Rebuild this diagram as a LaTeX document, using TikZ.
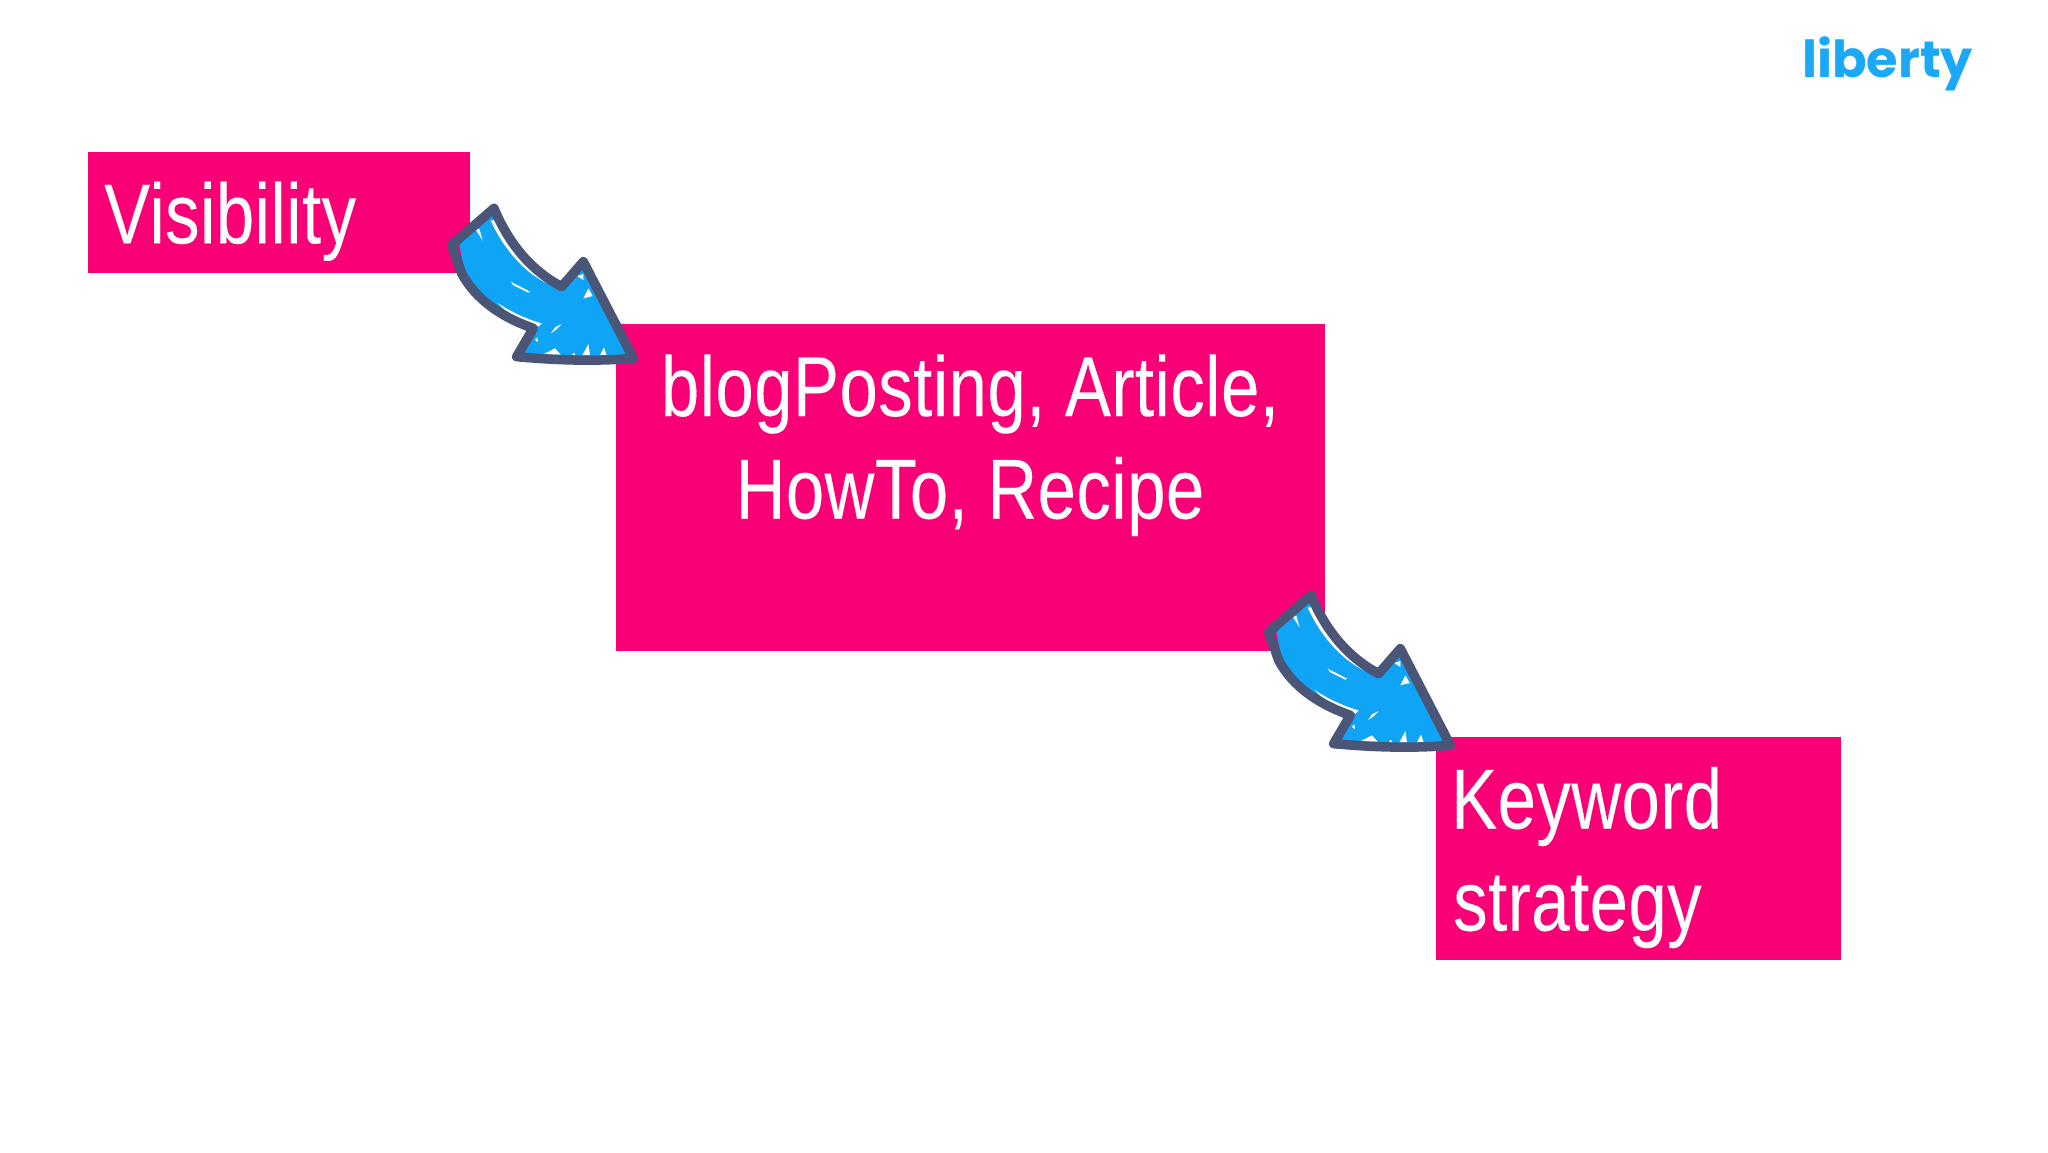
\documentclass[tikz,border=0pt]{standalone}
\usepackage{fontspec}
\setmainfont{Liberation Sans}
\newfontfamily\condfont[FakeStretch=0.81,FakeBold=0.1,LetterSpace=0.6]{Liberation Sans}
\newfontfamily\logofont{Poppins}
\definecolor{boxpink}{HTML}{FA0077}
\definecolor{arrowblue}{HTML}{0FA4F5}
\definecolor{arrowedge}{HTML}{4A5578}
\definecolor{logoblue}{HTML}{1AA8F7}
\tikzset{
  pinkbox/.style={fill=boxpink,draw=none,inner sep=0pt,anchor=north west},
  boxtext/.style={inner sep=0pt,text=white,font=\condfont\fontsize{85}{85}\selectfont},
  streak/.style={fill=white,draw=none},
  pics/sketcharrow/.style={code={
    \begin{scope}[scale=1/3]
      \path[fill=arrowblue]
        (222,85) .. controls (270,200) and (340,275) .. (425,320)
        -- (490,245) -- (640,535) -- (290,530) -- (340,445)
        .. controls (240,410) and (170,350) .. (135,280)
        -- (118,195) -- cycle;
      % white gaps left by the scribble
      \path[streak] (224,120) .. controls (266,212) and (330,280) .. (405,320)
        .. controls (325,292) and (255,215) .. (212,122) -- cycle;
      \path[streak] (232,368) .. controls (270,394) and (315,416) .. (365,430)
        -- (355,440) .. controls (310,428) and (265,405) .. cycle;
      \path[streak] (168,150) -- (178,146) -- (188,182) -- cycle;
      \path[streak] (272,305) -- (330,335) -- (325,338) -- (280,316) -- cycle;
      \path[streak] (472,288) -- (490,282) -- (490,300) -- cycle;
      \path[streak] (505,325) -- (518,348) -- (490,355) -- cycle;
      \path[streak] (425,432) -- (412,446) -- (393,460) -- (405,442) -- cycle;
      \path[streak] (345,480) -- (352,472) -- (354,486) -- cycle;
      \path[streak] (368,524) -- (405,505) -- (422,524) -- cycle;
      \path[streak] (455,526) -- (462,518) -- (466,526) -- cycle;
      \path[streak] (487,526) -- (505,492) -- (510,526) -- cycle;
      \path[streak] (540,526) -- (552,502) -- (560,526) -- cycle;
      \draw[arrowedge,line width=9.5pt,line join=round,line cap=round]
        (222,85) .. controls (270,200) and (340,275) .. (425,320)
        -- (490,245) -- (640,535)
        .. controls (520,545) and (400,540) .. (290,530)
        -- (340,445)
        .. controls (240,410) and (165,355) .. (125,280)
        -- (95,195) -- cycle;
    \end{scope}
  }}
}
\begin{document}
\begin{tikzpicture}[x=1pt,y=-1pt]
  \useasboundingbox (0,0) rectangle (2048,1152);
  \fill[white] (0,0) rectangle (2048,1152);

  \node[pinkbox,minimum width=382.5pt,minimum height=120.5pt] (vis) at (87.3,151.8) {};
  \node[pinkbox,minimum width=709pt,minimum height=327.7pt] (blog) at (615.7,323.3) {};
  \node[pinkbox,minimum width=405pt,minimum height=223.7pt] (key) at (1435.7,736.3) {};

  \node[boxtext,anchor=base west] (vistext) at (104,243.3) {Visibility};
  \node[boxtext,anchor=base] (blogone) at (970,416) {blogPosting, Article,};
  \node[boxtext,anchor=base] (blogtwo) at (970,518.5) {HowTo, Recipe};
  \node[boxtext,anchor=base west] (keyone) at (1451,828.5) {Keyword};
  \node[boxtext,anchor=base west] (keytwo) at (1453,930.5) {strategy};

  \pic at (420,180) {sketcharrow};
  \pic at (1237,567) {sketcharrow};

  \node[inner sep=0pt,anchor=base west,text=logoblue,
        font=\logofont\bfseries\fontsize{51}{51}\selectfont] (logo) at (1802,77) {liberty};
\end{tikzpicture}
\end{document}
